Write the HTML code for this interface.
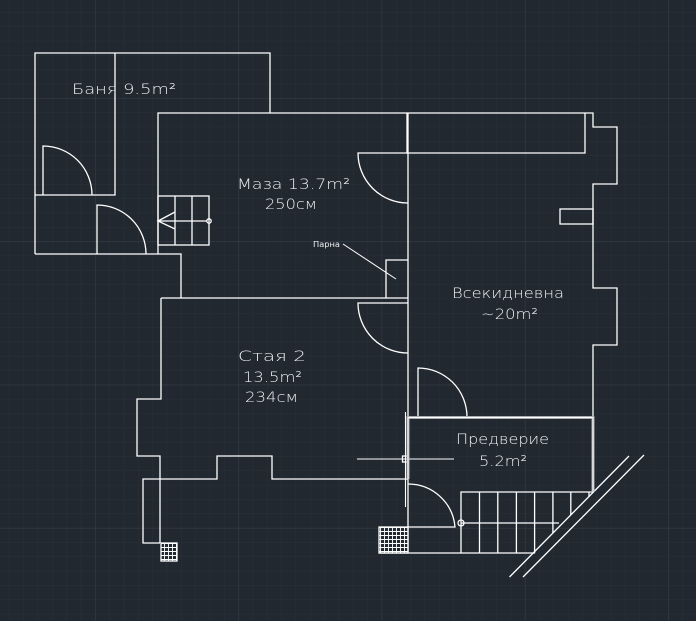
<!DOCTYPE html>
<html><head><meta charset="utf-8"><style>
html,body{margin:0;padding:0;background:#212830;}
svg{display:block}
text{font-family:"DejaVu Sans","Liberation Sans",sans-serif;font-weight:200;fill:#eceff2;font-size:14.5px;}
</style></head><body>
<svg width="696" height="621" viewBox="0 0 696 621" xmlns="http://www.w3.org/2000/svg">
<defs>
<pattern id="minor" x="9" y="12" width="14.33" height="14.33" patternUnits="userSpaceOnUse">
<path d="M0 0H14.33M0 0V14.33" stroke="#283039" stroke-width="1" fill="none"/>
</pattern>
<pattern id="major" x="95" y="98" width="143.3" height="143.3" patternUnits="userSpaceOnUse">
<path d="M0 0H143.3M0 0V143.3" stroke="#343c47" stroke-width="1.2" fill="none"/>
</pattern>
<pattern id="hatch" x="0" y="0" width="4" height="4" patternUnits="userSpaceOnUse">
<path d="M0.5 0V4M0 3.5H4" stroke="#fff" stroke-width="0.9"/>
</pattern>
</defs>
<rect width="696" height="621" fill="#212830"/>
<rect width="696" height="621" fill="url(#minor)"/>
<rect width="696" height="621" fill="url(#major)"/>

<g stroke="#fff" stroke-width="1.3" fill="none">
<path d="M35 254V53H270V113"/>
<path d="M115 53V195H35"/>
<path d="M35 254H181V298"/>
<path d="M43 195V146A49 49 0 0 1 92 195"/>
<path d="M97 254V205A49 49 0 0 1 146 254"/>
<path d="M158 254V113H593V127H617V184H593V288H617V345H593V417"/>
<path d="M407 113V153H585V113"/>
<rect x="560" y="209" width="33" height="15"/>
<path d="M408 113V553"/>
<path d="M408 153H358A50 50 0 0 0 408 203"/>
<rect x="158" y="196" width="51" height="49"/>
<path d="M175 196V245M192 196V245M158 221H207M175 212L158 221L175 229"/>
<circle cx="209" cy="221" r="2.2"/>
<path d="M386 298V260H408"/>
<path d="M343 244L396 279" stroke-width="1"/>
<path d="M161 298H408"/>
<path d="M408 303H358A50 50 0 0 0 408 353"/>
<path d="M161 298V399H137V456H160V543"/>
<path d="M160 543H143V479H217V456H272V479H408"/>
<rect x="161" y="543" width="16" height="18" fill="url(#hatch)"/>
<path d="M418 417V368A49 49 0 0 1 467 417"/>
<path d="M408 484A47 47 0 0 1 455 527H408"/>
<rect x="379" y="527" width="29" height="26" fill="url(#hatch)"/>
<path d="M379 553H535"/>
<path d="M461 553V492H593"/>
<path d="M479.5 492V553M497.8 492V553M516.4 492V553M534.6 492V553M552.9 492V533M570.8 492V515M589 492V497"/>
<path d="M461 523H559"/>
<circle cx="461" cy="523" r="3"/>
<path d="M509.5 577L629 456M523 577L644 455"/>
<path d="M357 459H454M405.5 412V507" stroke-width="1.1"/>
<rect x="402.5" y="456" width="6" height="6"/>
</g>
<path d="M408 479V417.5H593V492" stroke="#a9acb0" stroke-width="3" fill="none"/>
<path d="M408 479V417.5H593V492" stroke="#fff" stroke-width="1" fill="none"/>

<text x="72" y="94" textLength="104" lengthAdjust="spacingAndGlyphs">Баня  9.5m²</text>
<text x="237" y="189" textLength="113" lengthAdjust="spacingAndGlyphs">Маза  13.7m²</text>
<text x="265" y="209" textLength="52" lengthAdjust="spacingAndGlyphs">250см</text>
<text x="313" y="247" style="font-size:8px;font-weight:normal" textLength="27" lengthAdjust="spacingAndGlyphs">Парна</text>
<text x="238" y="361" textLength="68" lengthAdjust="spacingAndGlyphs">Стая  2</text>
<text x="243" y="382" textLength="59" lengthAdjust="spacingAndGlyphs">13.5m²</text>
<text x="245" y="402" textLength="53" lengthAdjust="spacingAndGlyphs">234см</text>
<text x="452" y="298" textLength="112" lengthAdjust="spacingAndGlyphs">Всекидневна</text>
<text x="481" y="319" textLength="57" lengthAdjust="spacingAndGlyphs">~20m²</text>
<text x="456" y="444" textLength="93" lengthAdjust="spacingAndGlyphs">Предверие</text>
<text x="479" y="466" textLength="48" lengthAdjust="spacingAndGlyphs">5.2m²</text>
</svg>
</body></html>
